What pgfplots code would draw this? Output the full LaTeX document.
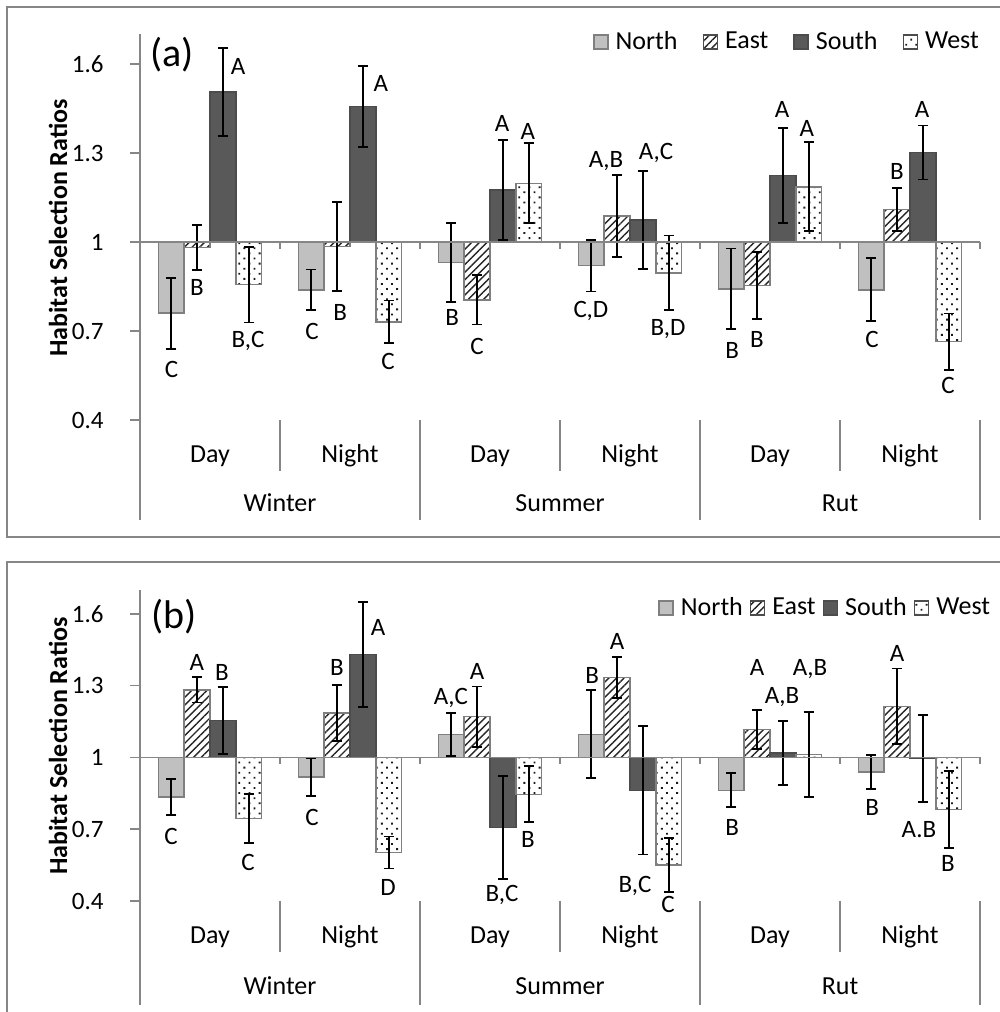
\documentclass[border=0pt]{standalone}
\usepackage{fontspec}
\setmainfont{Carlito}
\usepackage{pgfplots}
\pgfplotsset{compat=1.18}
\usepackage{pgfplotstable}
\usetikzlibrary{patterns.meta}
\definecolor{axisgray}{HTML}{868686}
\definecolor{northfill}{HTML}{C0C0C0}
\definecolor{barline}{HTML}{7F7F7F}
\definecolor{southfill}{HTML}{595959}

% ---------- panel (a) data: x = bar position, v = ratio, e = error ----------
\pgfplotstableread{
x v e
0.224 0.760 0.120
1.224 0.839 0.068
2.224 0.931 0.132
3.224 0.920 0.087
4.224 0.842 0.136
5.224 0.839 0.106
}\aN
\pgfplotstableread{
x v e
0.408 0.982 0.076
1.408 0.985 0.149
2.408 0.805 0.083
3.408 1.088 0.139
4.408 0.853 0.112
5.408 1.109 0.073
}\aE
\pgfplotstableread{
x v e
0.592 1.505 0.148
1.592 1.456 0.137
2.592 1.176 0.168
3.592 1.074 0.166
4.592 1.224 0.160
5.592 1.302 0.091
}\aS
\pgfplotstableread{
x v e
0.776 0.856 0.127
1.776 0.731 0.072
2.776 1.198 0.135
3.776 0.896 0.126
4.776 1.186 0.150
5.776 0.664 0.095
}\aW
\pgfplotstableread{
x y t
0.226 0.572 C
0.407 0.848 B
0.700 1.593 A
0.771 0.666 B,C
1.229 0.700 C
1.429 0.761 B
1.721 1.533 A
1.771 0.596 C
2.229 0.744 B
2.407 0.649 C
2.586 1.398 A
2.771 1.371 A
3.221 0.767 C,D
3.329 1.273 A,B
3.686 1.300 A,C
3.771 0.707 B,D
4.229 0.636 B
4.407 0.673 B
4.586 1.448 A
4.764 1.384 A
5.229 0.670 C
5.407 1.239 B
5.586 1.448 A
5.771 0.515 C
}\aL

% ---------- panel (b) data ----------
\pgfplotstableread{
x v e
0.224 0.835 0.075
1.224 0.918 0.078
2.224 1.097 0.090
3.224 1.097 0.184
4.224 0.8625 0.071
5.224 0.939 0.070
}\bN
\pgfplotstableread{
x v e
0.408 1.283 0.053
1.408 1.186 0.117
2.408 1.171 0.126
3.408 1.335 0.086
4.408 1.117 0.082
5.408 1.214 0.158
}\bE
\pgfplotstableread{
x v e
0.592 1.154 0.140
1.592 1.431 0.220
2.592 0.707 0.215
3.592 0.8625 0.268
4.592 1.019 0.135
5.592 0.995 0.182
}\bS
\pgfplotstableread{
x v e
0.776 0.745 0.102
1.776 0.603 0.067
2.776 0.846 0.117
3.776 0.551 0.113
4.776 1.0125 0.177
5.776 0.783 0.160
}\bW
\pgfplotstableread{
x y t
0.221 0.670 C
0.407 1.397 A
0.586 1.355 B
0.771 0.561 C
1.229 0.749 C
1.407 1.376 B
1.700 1.543 A
1.771 0.456 D
2.221 1.247 A,C
2.407 1.360 A
2.586 0.427 B,C
2.771 0.657 B
3.229 1.343 B
3.407 1.485 A
3.536 0.461 B,C
3.771 0.385 C
4.229 0.707 B
4.407 1.376 A
4.586 1.251 A,B
4.786 1.368 A,B
5.229 0.791 B
5.407 1.435 A
5.564 0.699 A.B
5.771 0.557 B
}\bL

\newcommand{\lblfont}{\fontsize{12.5}{15}\selectfont}
\newcommand{\catfont}{\fontsize{13}{15.6}\selectfont}

\tikzset{
  sepline/.style={draw=axisgray, line width=0.75pt},
  eastpat/.style={pattern={Lines[angle=45,distance=2.7pt,line width=0.7pt]}, pattern color=black!85},
  westpat/.style={pattern={Dots[angle=45,distance=3.6pt,radius=0.65pt]}, pattern color=black!90},
}

\pgfplotsset{
  barbase/.style={ybar, bar width=0.184, bar shift=0pt, line width=0.75pt,
    error bars/.cd, y dir=both, y explicit,
    error bar style={black, line width=0.9pt, solid},
    error mark options={black, line width=0.9pt, mark size=2.5pt, rotate=90},
    /pgfplots/.cd},
  northS/.style={barbase, fill=northfill, draw=barline,
    legend image code/.code={\draw[fill=northfill, draw=barline, line width=0.75pt] (0pt,-3.5pt) rectangle (7pt,3.5pt);}},
  eastS/.style={barbase, draw=barline, eastpat,
    legend image code/.code={\draw[draw=black!70, line width=0.75pt, eastpat] (0pt,-3.5pt) rectangle (7pt,3.5pt);}},
  southS/.style={barbase, fill=southfill, draw=black!70,
    legend image code/.code={\draw[fill=southfill, draw=black!70, line width=0.75pt] (0pt,-3.5pt) rectangle (7pt,3.5pt);}},
  westS/.style={barbase, draw=barline, westpat,
    legend image code/.code={\draw[draw=black!70, line width=0.75pt, westpat] (0pt,-3.5pt) rectangle (7pt,3.5pt);}},
  lblS/.style={only marks, mark=none, forget plot, point meta=explicit symbolic,
    nodes near coords,
    nodes near coords style={anchor=center, inner sep=0pt, font=\lblfont, text=black}},
  panel/.style={scale only axis, width=420pt,
    xmin=0, xmax=6, enlargelimits=false,
    axis x line=none, axis y line=left,
    axis line style={-, draw=axisgray, line width=0.75pt},
    ytick={-0.6,-0.3,0,0.3,0.6}, yticklabels={0.4,0.7,1,1.3,1.6},
    tick align=outside, major tick length=5pt,
    ytick style={draw=axisgray, line width=0.75pt},
    yticklabel style={font=\lblfont, inner sep=0pt, anchor=east, xshift=-13pt, text=black},
    xtick=\empty, clip=false,
    legend columns=4, legend cell align=left},
}

\begin{document}
\begin{tikzpicture}
\useasboundingbox (0pt,0pt) rectangle (500pt,-506pt);

% panel borders
\draw[axisgray, line width=0.75pt] (501pt,-3.5pt) -- (3.5pt,-3.5pt) -- (3.5pt,-268.5pt) -- (501pt,-268.5pt);
\draw[axisgray, line width=0.75pt] (501pt,-281pt) -- (3.5pt,-281pt) -- (3.5pt,-507pt);

% ================= panel (a) =================
\begin{axis}[panel, at={(70pt,-260pt)}, anchor=south west,
  height=242.85pt, ymin=-0.937, ymax=0.7,
  legend style={draw=none, fill=none, inner sep=0pt, at={(0.539,0.984)}, anchor=west,
    font=\catfont, nodes={inner sep=0pt},
    /tikz/every odd column/.append style={column sep=3.5pt},
    /tikz/every even column/.append style={column sep=12.5pt}}]
\addplot[northS] table[x=x, y expr=\thisrow{v}-1, y error=e] {\aN};
\addplot[eastS]  table[x=x, y expr=\thisrow{v}-1, y error=e] {\aE};
\addplot[southS] table[x=x, y expr=\thisrow{v}-1, y error=e] {\aS};
\addplot[westS]  table[x=x, y expr=\thisrow{v}-1, y error=e] {\aW};
\legend{North,East,South,West}
\addplot[lblS] table[x=x, y expr=\thisrow{y}-1, meta=t] {\aL};
% baseline and category ticks
\draw[sepline] (axis cs:0,0) -- (axis cs:6,0);
\draw[sepline] (axis cs:1,0) -- ([yshift=-3.5pt]axis cs:1,0);
\draw[sepline] (axis cs:2,0) -- ([yshift=-3.5pt]axis cs:2,0);
\draw[sepline] (axis cs:3,0) -- ([yshift=-3.5pt]axis cs:3,0);
\draw[sepline] (axis cs:4,0) -- ([yshift=-3.5pt]axis cs:4,0);
\draw[sepline] (axis cs:5,0) -- ([yshift=-3.5pt]axis cs:5,0);
\draw[sepline] (axis cs:6,0) -- ([yshift=-3.5pt]axis cs:6,0);
% category axis
\draw[sepline] (axis cs:1,-0.6) -- (axis cs:1,-0.772);
\draw[sepline] (axis cs:3,-0.6) -- (axis cs:3,-0.772);
\draw[sepline] (axis cs:5,-0.6) -- (axis cs:5,-0.772);
\draw[sepline] (axis cs:2,-0.6) -- (axis cs:2,-0.937);
\draw[sepline] (axis cs:4,-0.6) -- (axis cs:4,-0.937);
\draw[sepline] (axis cs:6,-0.6) -- (axis cs:6,-0.937);
\node[anchor=base, font=\catfont] at (axis cs:0.5,-0.7415) {Day};
\node[anchor=base, font=\catfont] at (axis cs:1.5,-0.7415) {Night};
\node[anchor=base, font=\catfont] at (axis cs:2.5,-0.7415) {Day};
\node[anchor=base, font=\catfont] at (axis cs:3.5,-0.7415) {Night};
\node[anchor=base, font=\catfont] at (axis cs:4.5,-0.7415) {Day};
\node[anchor=base, font=\catfont] at (axis cs:5.5,-0.7415) {Night};
\node[anchor=base, font=\catfont] at (axis cs:1,-0.910) {Winter};
\node[anchor=base, font=\catfont] at (axis cs:3,-0.910) {Summer};
\node[anchor=base, font=\catfont] at (axis cs:5,-0.910) {Rut};
\end{axis}

% ================= panel (b) =================
\begin{axis}[panel, at={(70pt,-502.5pt)}, anchor=south west,
  height=207.5pt, ymin=-1.0348, ymax=0.7,
  legend style={draw=none, fill=none, inner sep=0pt, at={(0.6167,0.9566)}, anchor=west,
    font=\catfont, nodes={inner sep=0pt},
    /tikz/every odd column/.append style={column sep=3.5pt},
    /tikz/every even column/.append style={column sep=3.5pt}}]
\addplot[northS] table[x=x, y expr=\thisrow{v}-1, y error=e] {\bN};
\addplot[eastS]  table[x=x, y expr=\thisrow{v}-1, y error=e] {\bE};
\addplot[southS] table[x=x, y expr=\thisrow{v}-1, y error=e] {\bS};
\addplot[westS]  table[x=x, y expr=\thisrow{v}-1, y error=e] {\bW};
\legend{North,East,South,West}
\addplot[lblS] table[x=x, y expr=\thisrow{y}-1, meta=t] {\bL};
\draw[sepline] (axis cs:0,0) -- (axis cs:6,0);
\draw[sepline] (axis cs:1,0) -- ([yshift=-3.5pt]axis cs:1,0);
\draw[sepline] (axis cs:2,0) -- ([yshift=-3.5pt]axis cs:2,0);
\draw[sepline] (axis cs:3,0) -- ([yshift=-3.5pt]axis cs:3,0);
\draw[sepline] (axis cs:4,0) -- ([yshift=-3.5pt]axis cs:4,0);
\draw[sepline] (axis cs:5,0) -- ([yshift=-3.5pt]axis cs:5,0);
\draw[sepline] (axis cs:6,0) -- ([yshift=-3.5pt]axis cs:6,0);
\draw[sepline] (axis cs:1,-0.6) -- (axis cs:1,-0.815);
\draw[sepline] (axis cs:3,-0.6) -- (axis cs:3,-0.815);
\draw[sepline] (axis cs:5,-0.6) -- (axis cs:5,-0.815);
\draw[sepline] (axis cs:2,-0.6) -- (axis cs:2,-1.0348);
\draw[sepline] (axis cs:4,-0.6) -- (axis cs:4,-1.0348);
\draw[sepline] (axis cs:6,-0.6) -- (axis cs:6,-1.0348);
\node[anchor=base, font=\catfont] at (axis cs:0.5,-0.7776) {Day};
\node[anchor=base, font=\catfont] at (axis cs:1.5,-0.7776) {Night};
\node[anchor=base, font=\catfont] at (axis cs:2.5,-0.7776) {Day};
\node[anchor=base, font=\catfont] at (axis cs:3.5,-0.7776) {Night};
\node[anchor=base, font=\catfont] at (axis cs:4.5,-0.7776) {Day};
\node[anchor=base, font=\catfont] at (axis cs:5.5,-0.7776) {Night};
\node[anchor=base, font=\catfont] at (axis cs:1,-0.991) {Winter};
\node[anchor=base, font=\catfont] at (axis cs:3,-0.991) {Summer};
\node[anchor=base, font=\catfont] at (axis cs:5,-0.991) {Rut};
\end{axis}

% y labels and panel letters
\node[rotate=90, font=\bfseries\catfont] at (29pt,-114pt) {Habitat Selection Ratios};
\node[rotate=90, font=\bfseries\catfont] at (29pt,-373pt) {Habitat Selection Ratios};
\node[font=\fontsize{20}{24}\selectfont, inner sep=0pt] at (86pt,-27.5pt) {(a)};
\node[font=\fontsize{20}{24}\selectfont, inner sep=0pt] at (87pt,-308.5pt) {(b)};
\end{tikzpicture}
\end{document}
